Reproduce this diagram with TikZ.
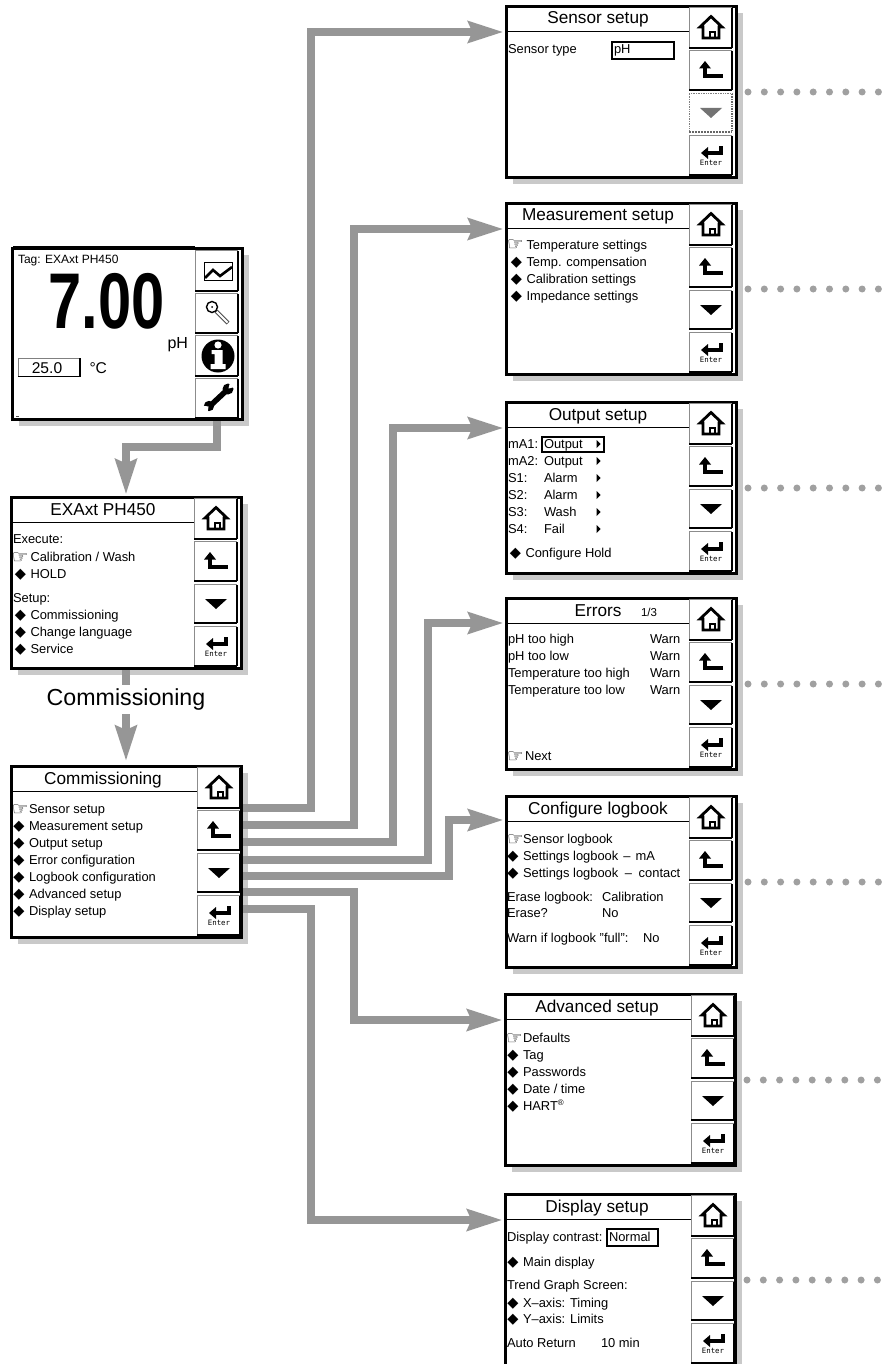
\documentclass[tikz,border=0pt]{standalone}
\usepackage{graphicx}
\usepackage{fontspec}
\setmainfont{Liberation Sans}
\newfontfamily\djv{DejaVu Sans}
\newfontfamily\monof{DejaVu Sans Mono}
\usetikzlibrary{arrows.meta}
\definecolor{flow}{HTML}{969696}
\definecolor{shade}{HTML}{C9C9C9}
\definecolor{dotc}{HTML}{A0A0A0}
\newcount\tcnt
\newcommand{\tstep}{\global\advance\tcnt by 1\relax}
\tikzset{
  x=1pt,y=-1pt,
  panelbox/.style={draw=black,fill=white,line width=3pt,minimum width=230pt,minimum height=171pt,inner sep=0pt,anchor=north west},
  shadowbox/.style={fill=shade,draw=none},
  lab/.style={font=\fontsize{12.9}{14}\selectfont,anchor=base west,inner sep=0pt,outer sep=0pt},
  ttl/.style={font=\fontsize{17.2}{20}\selectfont,anchor=base,inner sep=0pt,outer sep=0pt},
  flowline/.style={draw=flow,line width=7.5pt,line join=miter},
  flowarrow/.style={flowline,-{Stealth[length=35pt,width=21pt,inset=4pt]},shorten >=1.5pt},
  dotrow/.style={draw=dotc,line width=7pt,line cap=round,dash pattern=on 0pt off 16.3pt},
  icon/.style={line width=2.8pt,draw=black,line join=miter},
}
% button: #1 left, #2 top, #3 bottom
\newcommand{\btn}[3]{%
  \fill[white] (#1,#2) rectangle (#1+43,#3);
  \draw[draw=black!45,line width=.7pt] (#1,#3) -- (#1,#2) -- (#1+43,#2);
  \draw[black,line width=1.5pt] (#1+43,#2+1) -- (#1+43,#3);
  \draw[black,line width=2.2pt] (#1,#3) -- (#1+43,#3);
}
\newcommand{\btnoff}[3]{%
  \fill[white] (#1,#2) rectangle (#1+43,#3);
  \draw[draw=black!50,line width=.7pt,densely dotted] (#1,#3) -- (#1,#2) -- (#1+43,#2);
  \draw[black!60,line width=1.4pt,densely dotted] (#1+43,#2+1) -- (#1+43,#3);
  \draw[black!60,line width=2pt,densely dotted] (#1,#3) -- (#1+43,#3);
}
\newcommand{\icohome}[2]{\begin{scope}[shift={(#1,#2)}]
  \draw[icon] (-8,11) -- (-8,0) -- (-11,0) -- (0,-10.5) -- (11,0) -- (8,0) -- (8,11) -- cycle;
  \draw[line width=1.4pt] (-1,11) -- (-1,5) -- (4,5) -- (4,11);
\end{scope}}
\newcommand{\icoback}[2]{\begin{scope}[shift={(#1,#2)}]
  \fill (-6,-9) -- (0,-1.5) -- (-12,-1.5) -- cycle;
  \draw[line width=3.4pt] (-6,-3) -- (-6,6) -- (12,6);
\end{scope}}
\newcommand{\icodown}[3][black]{\fill[#1] (#2-11,#3-4.5) -- (#2+11,#3-4.5) -- (#2,#3+5.5) -- cycle;}
\newcommand{\icoenter}[3]{\begin{scope}[shift={(#1,#2)}]
  \fill (-10,-2) -- (-3,-8) -- (-3,4) -- cycle;
  \draw[line width=3.2pt] (-4,-2) -- (10,-2) -- (10,-9);
  \node (#3) [font=\monof\fontsize{7.4}{8}\selectfont,inner sep=0pt] at (0,8) {Enter};
\end{scope}}
% panel: #1 name, #2 x, #3 y, #4 button column, #5 title, #6 title line y
\newcommand{\panelframe}[6]{%
  \fill[shadowbox] (#2+8,#3+8) rectangle (#2+238,#3+179);
  \node[panelbox] (#1) at (#2,#3) {};
  \draw[black,line width=1pt] (#2+2,#3+#6) -- (#2+#4,#3+#6);
  \node[ttl] (#1title) at (#2+93,#3+19) {#5};
}
\newcommand{\stdbtns}[3]{%
  \begin{scope}[shift={(#1,#2)}]
  \btn{#3}{2}{43}\icohome{#3+22}{22}
  \btn{#3}{45}{85}\icoback{#3+22}{65}
  \btn{#3}{88}{127}\icodown{#3+22}{107.5}
  \btn{#3}{130}{170}\icoenter{#3+22}{150}{enter#2}
  \end{scope}}
\newcommand{\txt}[3]{\tstep\node[lab] (t\the\tcnt) at (#1,#2) {#3};}
\newcommand{\hand}[3]{%
  \tstep\node[lab,font=\djv\fontsize{18.5}{20}\selectfont] (t\the\tcnt) at (2,#2+2) {☞};
  \tstep\node[lab] (t\the\tcnt) at (#1,#2) {#3};}
\newcommand{\dia}[3]{%
  \tstep\node[anchor=base,inner sep=0pt,font=\djv\fontsize{14.5}{15}\selectfont] (t\the\tcnt) at (#1-10,#2+.5) {◆};
  \tstep\node[lab] (t\the\tcnt) at (#1,#2) {#3};}
\newcommand{\tri}[2]{\fill (#1,#2-4) -- (#1+4,#2) -- (#1,#2+4) -- cycle;}
\begin{document}
\begin{tikzpicture}
\useasboundingbox (0,0) rectangle (885,1364);
\clip (0,0) rectangle (885,1364);
\fill[white] (0,0) rectangle (885,1364);

% ---------- main display
\panelframe{main}{11}{247}{184}{}{0}
\begin{scope}[shift={(11,247)}]
  \btn{184}{3}{44}\btn{184}{46}{86}\btn{184}{88}{129}\btn{184}{131}{171}
\end{scope}
\node[lab,font=\fontsize{12}{14}\selectfont] (tag) at (18,263) {Tag: EXAxt PH450};
\node[anchor=base,inner sep=0pt,font=\bfseries\fontsize{79}{80}\selectfont] (value) at (106.5,328) {\scalebox{.755}[1]{7.00}};
\node[lab,font=\fontsize{16}{18}\selectfont] (unit) at (167.5,348) {pH};
\fill[white] (18,358) rectangle (80,377);
\draw[black!50,line width=.7pt] (18,377) -- (18,358) -- (80,358);
\draw[black,line width=1.6pt] (18,376.5) -- (80,376.5) -- (80,358);
\node[anchor=base,inner sep=0pt,font=\fontsize{15.6}{18}\selectfont] (temp) at (47,373) {25.0};
\node[lab,font=\fontsize{15.6}{18}\selectfont] (tempunit) at (89.5,373) {°C};
\draw[black!70,line width=.7pt] (16,416) -- (19,416);
% trend icon
\draw[black,line width=1pt] (204,262) rectangle (232,280);
\draw[black,line width=2.6pt] (205,278) -- (213,270) -- (220,276) -- (232,267);
% magnifier icon
\draw[black!70,line width=4pt] (216,311) -- (228,323);
\draw[white,line width=2pt] (216.5,311.5) -- (227.5,322.5);
\draw[black,fill=white,line width=1.4pt] (212,307) circle (5.5);
\fill (212,307) circle (1);
% info icon
\fill (218,356) circle (16.5);
\fill[white] (218,345) circle (3.6);
\fill[white] (211.5,350) -- (222.5,350) -- (222.5,364) -- (225.5,364) -- (225.5,369) -- (210.5,369) -- (210.5,364) -- (214.5,364) -- (214.5,354) -- (211.5,354) -- cycle;
% wrench icon
\draw[black,line width=5.5pt] (211,405) -- (226,391);
\fill (228,389) circle (5.5);
\fill (209,406) circle (5.2);
\fill[white] (228.5,388.5) -- (230.5,380) -- (237,386.5) -- cycle;
\fill[white] (208.5,406.5) -- (201,405.5) -- (207.5,414) -- cycle;

% ---------- EXAxt
\panelframe{exa}{10}{496}{184}{EXAxt PH450}{26.5}
\stdbtns{10}{496}{184}
\begin{scope}[shift={(10,496)}]
  \txt{3}{47}{Execute:}
  \hand{20.5}{65}{Calibration / Wash}
  \dia{20.5}{82}{HOLD}
  \txt{3}{106}{Setup:}
  \dia{20.5}{123}{Commissioning}
  \dia{20.5}{140}{Change language}
  \dia{20.5}{157}{Service}
\end{scope}

% ---------- Commissioning
\panelframe{comm}{10}{765}{187}{Commissioning}{26.5}
\stdbtns{10}{765}{187}
\begin{scope}[shift={(10,765)}]
  \hand{19}{48}{Sensor setup}
  \dia{19}{65}{Measurement setup}
  \dia{19}{82}{Output setup}
  \dia{19}{99}{Error configuration}
  \dia{19}{116}{Logbook configuration}
  \dia{19}{133}{Advanced setup}
  \dia{19}{150}{Display setup}
\end{scope}

% ---------- Sensor setup
\panelframe{sensor}{505}{5}{184}{Sensor setup}{26.5}
\begin{scope}[shift={(505,5)}]
  \btn{184}{2}{43}\icohome{206}{22}
  \btn{184}{45}{85}\icoback{206}{65}
  \btnoff{184}{88}{127}\icodown[black!55]{206}{107.5}
  \btn{184}{130}{170}\icoenter{206}{150}{entersensor}
  \txt{3}{49}{Sensor type}
  \draw[black,line width=1.3pt] (107,37) rectangle (169,54);
  \txt{109}{49}{pH}
\end{scope}

% ---------- Measurement setup
\panelframe{meas}{505}{202}{184}{Measurement setup}{26.5}
\stdbtns{505}{202}{184}
\begin{scope}[shift={(505,202)}]
  \hand{21.5}{47}{Temperature settings}
  \dia{21.5}{64}{Temp. compensation}
  \dia{21.5}{81}{Calibration settings}
  \dia{21.5}{98}{Impedance settings}
\end{scope}

% ---------- Output setup
\panelframe{output}{505}{401}{184}{Output setup}{26.5}
\stdbtns{505}{401}{184}
\begin{scope}[shift={(505,401)}]
  \draw[black,line width=1.3pt] (37,36) rectangle (99,51);
  \txt{3}{47}{mA1:}\txt{39}{47}{Output}\tri{91.5}{43}
  \txt{3}{64}{mA2:}\txt{39}{64}{Output}\tri{91.5}{60}
  \txt{3}{81}{S1:}\txt{39}{81}{Alarm}\tri{91.5}{77}
  \txt{3}{98}{S2:}\txt{39}{98}{Alarm}\tri{91.5}{94}
  \txt{3}{115}{S3:}\txt{39}{115}{Wash}\tri{91.5}{111}
  \txt{3}{132}{S4:}\txt{39}{132}{Fail}\tri{91.5}{128}
  \dia{20.5}{156}{Configure Hold}
\end{scope}

% ---------- Errors
\panelframe{errors}{505}{597}{184}{Errors}{26.5}
\stdbtns{505}{597}{184}
\begin{scope}[shift={(505,597)}]
  \node[anchor=base,inner sep=0pt,font=\fontsize{11.5}{14}\selectfont] (errpage) at (144,19) {1/3};
  \txt{3}{46}{pH too high}\txt{145}{46}{Warn}
  \txt{3}{63}{pH too low}\txt{145}{63}{Warn}
  \txt{3}{80}{Temperature too high}\txt{145}{80}{Warn}
  \txt{3}{97}{Temperature too low}\txt{145}{97}{Warn}
  \hand{20}{163}{Next}
\end{scope}

% ---------- Configure logbook
\panelframe{logbook}{505}{795}{184}{Configure logbook}{26.5}
\stdbtns{505}{795}{184}
\begin{scope}[shift={(505,795)}]
  \hand{18}{48}{Sensor logbook}
  \dia{18}{65}{Settings logbook\hspace{1.5pt} --\hspace{1.5pt} mA}
  \dia{18}{82}{Settings logbook\hspace{3pt} --\hspace{3pt} contact}
  \txt{2}{106}{Erase logbook:}\txt{97}{106}{Calibration}
  \txt{2}{122}{Erase?}\txt{97}{122}{No}
  \txt{2}{147}{Warn if logbook "full":}\txt{138}{147}{No}
\end{scope}

% ---------- Advanced setup
\panelframe{adv}{504}{993}{187}{Advanced setup}{26.5}
\stdbtns{504}{993}{187}
\begin{scope}[shift={(504,993)}]
  \hand{19}{49}{Defaults}
  \dia{19}{66}{Tag}
  \dia{19}{83}{Passwords}
  \dia{19}{100}{Date / time}
  \dia{19}{117}{HART\raisebox{.35em}{\fontsize{8}{9}\selectfont ®}}
\end{scope}

% ---------- Display setup
\panelframe{disp}{504}{1193}{187}{Display setup}{26.5}
\stdbtns{504}{1193}{187}
\begin{scope}[shift={(504,1193)}]
  \txt{3}{48}{Display contrast:}
  \draw[black,line width=1.3pt] (103,36) rectangle (154,53);
  \txt{105}{48}{Normal}
  \dia{19}{73}{Main display}
  \txt{3}{96}{Trend Graph Screen:}
  \dia{19}{114}{X--axis: Timing}
  \dia{19}{130}{Y--axis: Limits}
  \txt{3}{154}{Auto Return}\txt{97}{154}{10 min}
\end{scope}

% ---------- dotted continuation rows
\foreach \p in {sensor,meas,output,errors,logbook,adv,disp}
  \draw[dotrow] ([xshift=10pt]\p.east) -- ([xshift=142pt]\p.east);

% ---------- connectors
\draw[flowarrow] (217,0 |- main.south) -- (217,447) -- (126,447) -- (126,0 |- exa.north) ;
\node[font=\fontsize{23.2}{26}\selectfont,inner sep=0pt,minimum height=29pt] (commlabel) at (126,699.5) {Commissioning};
\draw[flowline] (exa.south -| commlabel) -- (commlabel.north);
\draw[flowarrow,shorten >=4pt] (commlabel.south) -- (comm.north -| commlabel);

\draw[flowarrow] (comm.east |- 0,808) -- (311,808) -- (311,32) -- (sensor.west |- 0,32);
\draw[flowarrow] (comm.east |- 0,825) -- (354,825) -- (354,229) -- (meas.west |- 0,229);
\draw[flowarrow] (comm.east |- 0,842) -- (393,842) -- (393,428) -- (output.west |- 0,428);
\draw[flowarrow] (comm.east |- 0,860) -- (428,860) -- (428,623) -- (errors.west |- 0,623);
\draw[flowarrow] (comm.east |- 0,876) -- (449,876) -- (449,820) -- (logbook.west |- 0,820);
\draw[flowarrow] (comm.east |- 0,892) -- (354,892) -- (354,1020) -- (adv.west |- 0,1020);
\draw[flowarrow] (comm.east |- 0,909) -- (311,909) -- (311,1220) -- (disp.west |- 0,1220);
\end{tikzpicture}
\end{document}
